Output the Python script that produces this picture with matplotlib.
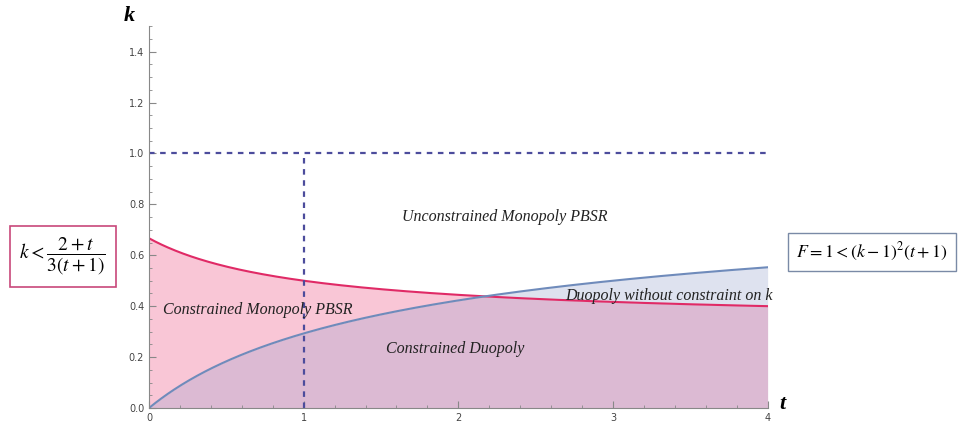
import numpy as np
import matplotlib
matplotlib.use("Agg")
import matplotlib.pyplot as plt
from matplotlib.ticker import MultipleLocator

plt.rcParams['mathtext.fontset'] = 'stix'

# t grid and the two boundaries k(t)
t = np.linspace(0, 4, 400)
k_monopoly = (2 + t) / (3 * (t + 1))      # k < (2+t)/(3(t+1))
k_duopoly = 1 - 1 / np.sqrt(t + 1)        # 1 < (k-1)^2 (t+1)
k_upper = 1.0
t_split = 1.0

region_labels = ["Unconstrained Monopoly PBSR", "Constrained Monopoly PBSR",
                 "Constrained Duopoly", "Duopoly without constraint on k"]
region_pos = [(2.3, 0.75), (0.09, 0.385), (1.98, 0.23), (2.69, 0.44)]
region_ha = ['center', 'left', 'center', 'left']

fig = plt.figure(figsize=(9.68, 4.29), dpi=100)
ax = fig.add_axes([0.154, 0.049, 0.639, 0.89])

lo = np.minimum(k_monopoly, k_duopoly)
ax.fill_between(t, 0, lo, color='#dcbad3', lw=0)
ax.fill_between(t, k_duopoly, k_monopoly, where=k_monopoly >= k_duopoly,
                color='#f9c6d6', lw=0, interpolate=True)
ax.fill_between(t, k_monopoly, k_duopoly, where=k_duopoly >= k_monopoly,
                color='#dee2ef', lw=0, interpolate=True)

ax.plot(t, k_monopoly, color='#e02a66', lw=1.5)
ax.plot(t, k_duopoly, color='#6f8bbb', lw=1.5)

ax.plot([0, 4], [k_upper, k_upper], color='#4c4c9c', lw=1.6, ls=(0, (2.5, 2.5)))
ax.plot([t_split, t_split], [0, k_upper], color='#4c4c9c', lw=1.6, ls=(0, (2.5, 2.5)))

for lab, (x, y), ha in zip(region_labels, region_pos, region_ha):
    ax.text(x, y, lab, family='Liberation Serif', style='italic', fontsize=11.5,
            color='#222222', ha=ha, va='center')

ax.set_xlim(0, 4)
ax.set_ylim(0, 1.5)
for s in ['top', 'right']:
    ax.spines[s].set_visible(False)
for s in ['left', 'bottom']:
    ax.spines[s].set_color('#888888')
ax.xaxis.set_major_locator(MultipleLocator(1))
ax.xaxis.set_minor_locator(MultipleLocator(0.2))
ax.yaxis.set_minor_locator(MultipleLocator(0.05))
ax.set_yticks(np.arange(0, 1.41, 0.2))
ax.set_yticklabels(['%.1f' % v for v in np.arange(0, 1.41, 0.2)])
ax.tick_params(which='both', direction='in', color='#888888', labelsize=7,
               labelcolor='#444444')
ax.tick_params(which='major', length=5)
ax.tick_params(which='minor', length=2.5)

fig.text(0.134, 0.963, 'k', family='Liberation Serif', style='italic',
         weight='bold', fontsize=16, ha='center', va='center')
fig.text(0.808, 0.058, 't', family='Liberation Serif', style='italic',
         weight='bold', fontsize=16, ha='center', va='center')

# boxed conditions beside the axes
fig.text(0.0646, 0.402, r'$k < \dfrac{2+t}{3(t+1)}$', fontsize=14, ha='center',
         va='center', bbox=dict(boxstyle='square,pad=0.5', fc='white',
                                ec='#c8487a', lw=1.2))
fig.text(0.901, 0.413, r'$F = 1 < (k-1)^2(t+1)$', fontsize=12.8, ha='center',
         va='center', bbox=dict(boxstyle='square,pad=0.45', fc='white',
                                ec='#7a8aa6', lw=1.0))

fig.savefig('out.png', dpi=100)
